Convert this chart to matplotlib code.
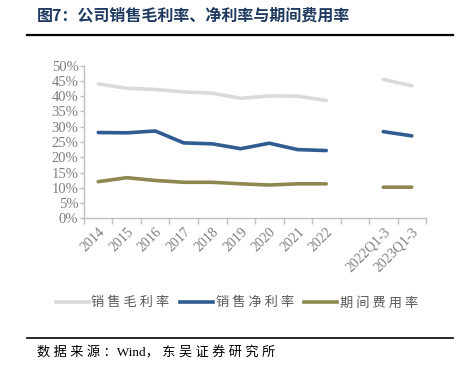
import numpy as np
import matplotlib.pyplot as plt
from matplotlib.lines import Line2D

plt.rcParams['font.family'] = ['Noto Sans CJK SC', 'DejaVu Sans']

# Data
categories = ['2014', '2015', '2016', '2017', '2018', '2019', '2020', '2021', '2022',
              '', '2022Q1-3', '2023Q1-3']
gross_margin = [44.0, 42.6, 42.2, 41.4, 41.0, 39.3, 40.1, 40.0, 38.6, np.nan, 45.5, 43.4]
net_margin = [28.1, 28.0, 28.6, 24.7, 24.4, 22.8, 24.6, 22.5, 22.2, np.nan, 28.4, 27.0]
expense_ratio = [12.0, 13.3, 12.4, 11.8, 11.8, 11.3, 10.9, 11.3, 11.3, np.nan, 10.2, 10.2]

c_gross = '#DADADA'
c_net = '#2F5C91'
c_exp = '#8F8752'
tick_color = '#7F7F7F'

fig = plt.figure(figsize=(4.6, 3.74), dpi=100)
ax = fig.add_axes([0.1826, 0.4163, 0.7435, 0.4081])

x = np.arange(len(categories))
ax.plot(x, gross_margin, color=c_gross, lw=2.6, solid_capstyle='round')
ax.plot(x, net_margin, color=c_net, lw=2.6, solid_capstyle='round')
ax.plot(x, expense_ratio, color=c_exp, lw=2.6, solid_capstyle='round')

ax.set_xlim(-0.5, len(categories) - 0.5)
ax.set_ylim(0, 50)
ax.set_yticks(np.arange(0, 51, 5))
ax.set_yticklabels([f'{v}%' for v in range(0, 51, 5)], family='Liberation Serif',
                   fontsize=10.5, color=tick_color)

ax.set_xticks(x)
ax.set_xticklabels(categories, rotation=45, ha='right', rotation_mode='anchor',
                   family='Liberation Serif', fontsize=10, color=tick_color)
ax.set_xticks(np.arange(-0.5, len(categories)), minor=True)
ax.tick_params(axis='x', which='major', length=0, pad=5)
ax.tick_params(axis='x', which='minor', length=4, color='#BFBFBF', width=1)
ax.tick_params(axis='y', length=3, color='#BFBFBF', width=1, pad=1)

for s in ['top', 'right']:
    ax.spines[s].set_visible(False)
for s in ['left', 'bottom']:
    ax.spines[s].set_color('#BFBFBF')
    ax.spines[s].set_linewidth(1)

handles = [Line2D([], [], color=c, lw=2.6) for c in (c_gross, c_net, c_exp)]
fig.legend(handles, ['销 售 毛 利 率', '销 售 净 利 率', '期 间 费 用 率'], loc='center',
           bbox_to_anchor=(0.515, 0.19), ncol=3, frameon=False, handlelength=2.5,
           handletextpad=0.2, columnspacing=0.8, prop={'size': 9.5},
           labelcolor='#595959')

# Title and source
fig.text(0.08, 0.958, '图7：公司销售毛利率、净利率与期间费用率', fontsize=11.5,
         fontweight='bold', color='#1F3A60', va='center')
fig.add_artist(Line2D([0.058, 0.985], [0.906, 0.906], color='black', lw=1.6))
fig.add_artist(Line2D([0.058, 0.985], [0.096, 0.096], color='black', lw=1.2))
fig.text(0.08, 0.056, '数 据 来 源 ：Wind， 东 吴 证 券 研 究 所', fontsize=9.5,
         color='black', va='center', family=['Liberation Serif', 'Noto Sans CJK SC'])

fig.savefig('out.png', dpi=100)
